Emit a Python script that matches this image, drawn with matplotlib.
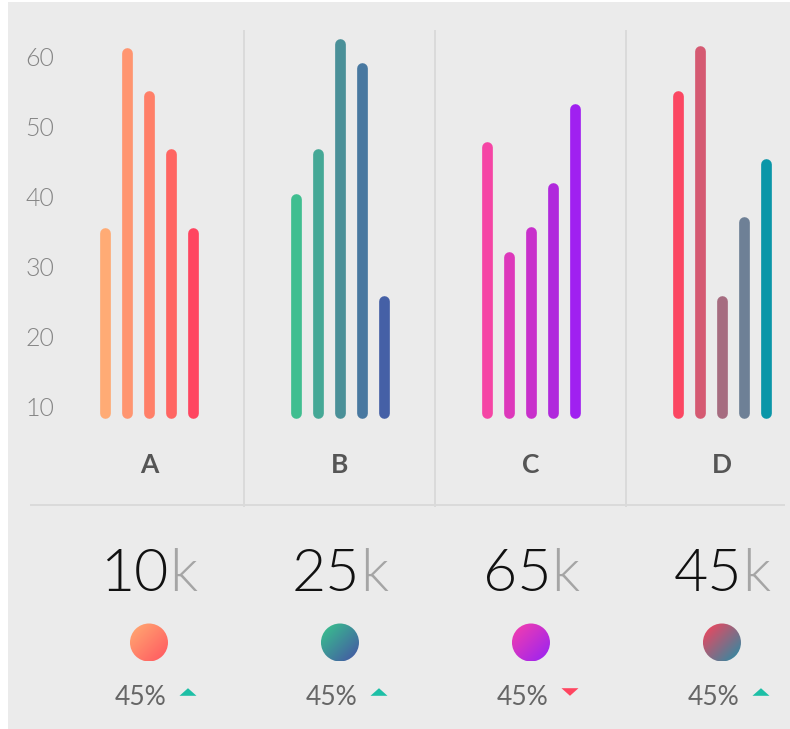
import numpy as np
import matplotlib.pyplot as plt
from matplotlib.colors import to_rgb
from matplotlib.patches import Rectangle, Circle, Polygon

#--------Data--------#
groups = ['A', 'B', 'C', 'D']
values_a = [34.8, 60.5, 54.3, 46.1, 34.8]
values_b = [39.7, 46.0, 61.7, 58.3, 25.1]
values_c = [47.0, 31.3, 34.9, 41.2, 52.4]
values_d = [54.3, 60.7, 25.1, 36.3, 44.6]
bar_base = 9.1
y_ticks = [10, 20, 30, 40, 50, 60]
totals = ['10', '25', '65', '45']
changes = ['45%', '45%', '45%', '45%']
trends = ['up', 'up', 'down', 'up']
#--------------------#

#-------Colours------#
bar_colors = [['#FFAB75', '#FF9570', '#FF7F68', '#FF6562', '#FF4560'],
              ['#40BE90', '#45A896', '#4A9098', '#4878A0', '#4560A6'],
              ['#F545A5', '#DD38BB', '#C830CB', '#B028DC', '#A020F0'],
              ['#FB4762', '#D55A72', '#A66C80', '#6E8096', '#0A96A8']]
circle_grad = [('#FFAD72', '#FF5560'),
               ('#38C88C', '#4552A5'),
               ('#F93FAA', '#9622F5'),
               ('#FF4058', '#238FA8')]
trend_col = {'up': '#1DBFA6', 'down': '#FF4560'}
#--------------------#

plt.rcParams['font.family'] = ['Lato', 'DejaVu Sans']

W, H = 790, 729
fig = plt.figure(figsize=(W / 100, H / 100), dpi=100)
fig.patch.set_facecolor('white')
fig.patches.append(Rectangle((8 / W, 0), 1, 1 - 2 / H, transform=fig.transFigure,
                             facecolor='#EBEBEB', edgecolor='none', zorder=-10))

# bar panel
ax = fig.add_axes([30 / W, (H - 507) / H, (785 - 30) / W, (507 - 30) / H])
ax.set_facecolor('none')
ax.set_xlim(-0.623, 3.330)
ax.set_ylim(-4.31, 63.74)
for s in ax.spines.values():
    s.set_visible(False)
ax.set_xticks([])
ax.set_yticks(y_ticks)
ax.set_yticklabels([str(t) for t in y_ticks], fontsize=18, fontweight=300, color='#858585')
ax.tick_params(axis='y', length=0, pad=-17.3)

all_values = [values_a, values_b, values_c, values_d]
offset = 0.1152
for i, vals in enumerate(all_values):
    n = len(vals)
    for j, v in enumerate(vals):
        x = i + (j - (n - 1) / 2) * offset
        ax.plot([x, x], [bar_base, v], color=bar_colors[i][j], lw=7.7,
                solid_capstyle='round', zorder=3)
    ax.text(i, 0.54, groups[i], ha='center', va='baseline', fontsize=19,
            fontweight='bold', color='#555555')

for i in range(len(groups) - 1):
    ax.axvline(i + 0.5, color='#DADADA', lw=1.4, zorder=1)
ax.axhline(-4.02, color='#DADADA', lw=1.4, zorder=1)

# bottom row in pixel coordinates
axo = fig.add_axes([0, 0, 1, 1])
axo.set_xlim(0, W)
axo.set_ylim(H, 0)
axo.axis('off')
axo.set_facecolor('none')

renderer = fig.canvas.get_renderer()
r = 19
yy, xx = np.mgrid[0:1:100j, 0:1:100j]
tt = (xx + yy) / 2
for i in range(len(groups)):
    gc = ax.transData.transform((i, 0))[0]

    # big number with grey k
    t1 = axo.text(0, 591, totals[i], fontsize=42.5, fontweight=300, color='#111111',
                  ha='left', va='baseline')
    t2 = axo.text(0, 591, 'k', fontsize=42.5, fontweight=300, color='#A5A5A5',
                  ha='left', va='baseline')
    w1 = t1.get_window_extent(renderer).width
    w2 = t2.get_window_extent(renderer).width
    left = gc - (w1 + w2) / 2
    t1.set_x(left)
    t2.set_x(left + w1)

    # gradient circle
    cy = 642.5
    c0, c1 = np.array(to_rgb(circle_grad[i][0])), np.array(to_rgb(circle_grad[i][1]))
    img = c0[None, None, :] * (1 - tt[..., None]) + c1[None, None, :] * tt[..., None]
    im = axo.imshow(img, extent=[gc - r, gc + r, cy + r, cy - r], interpolation='bilinear', zorder=3)
    clip = Circle((gc, cy), r, transform=axo.transData)
    im.set_clip_path(clip)

    # change with trend arrow
    axo.text(gc - 8, 705, changes[i], fontsize=19, fontweight='normal', color='#666666',
             ha='center', va='baseline')
    tx, ty = gc + 39, 692
    if trends[i] == 'up':
        pts = [(tx - 8.5, ty + 3.8), (tx + 8.5, ty + 3.8), (tx, ty - 3.8)]
    else:
        pts = [(tx - 8.5, ty - 3.8), (tx + 8.5, ty - 3.8), (tx, ty + 3.8)]
    axo.add_patch(Polygon(pts, closed=True, facecolor=trend_col[trends[i]], edgecolor='none'))

axo.set_xlim(0, W)
axo.set_ylim(H, 0)

fig.savefig('out.png', dpi=100, facecolor=fig.get_facecolor())
